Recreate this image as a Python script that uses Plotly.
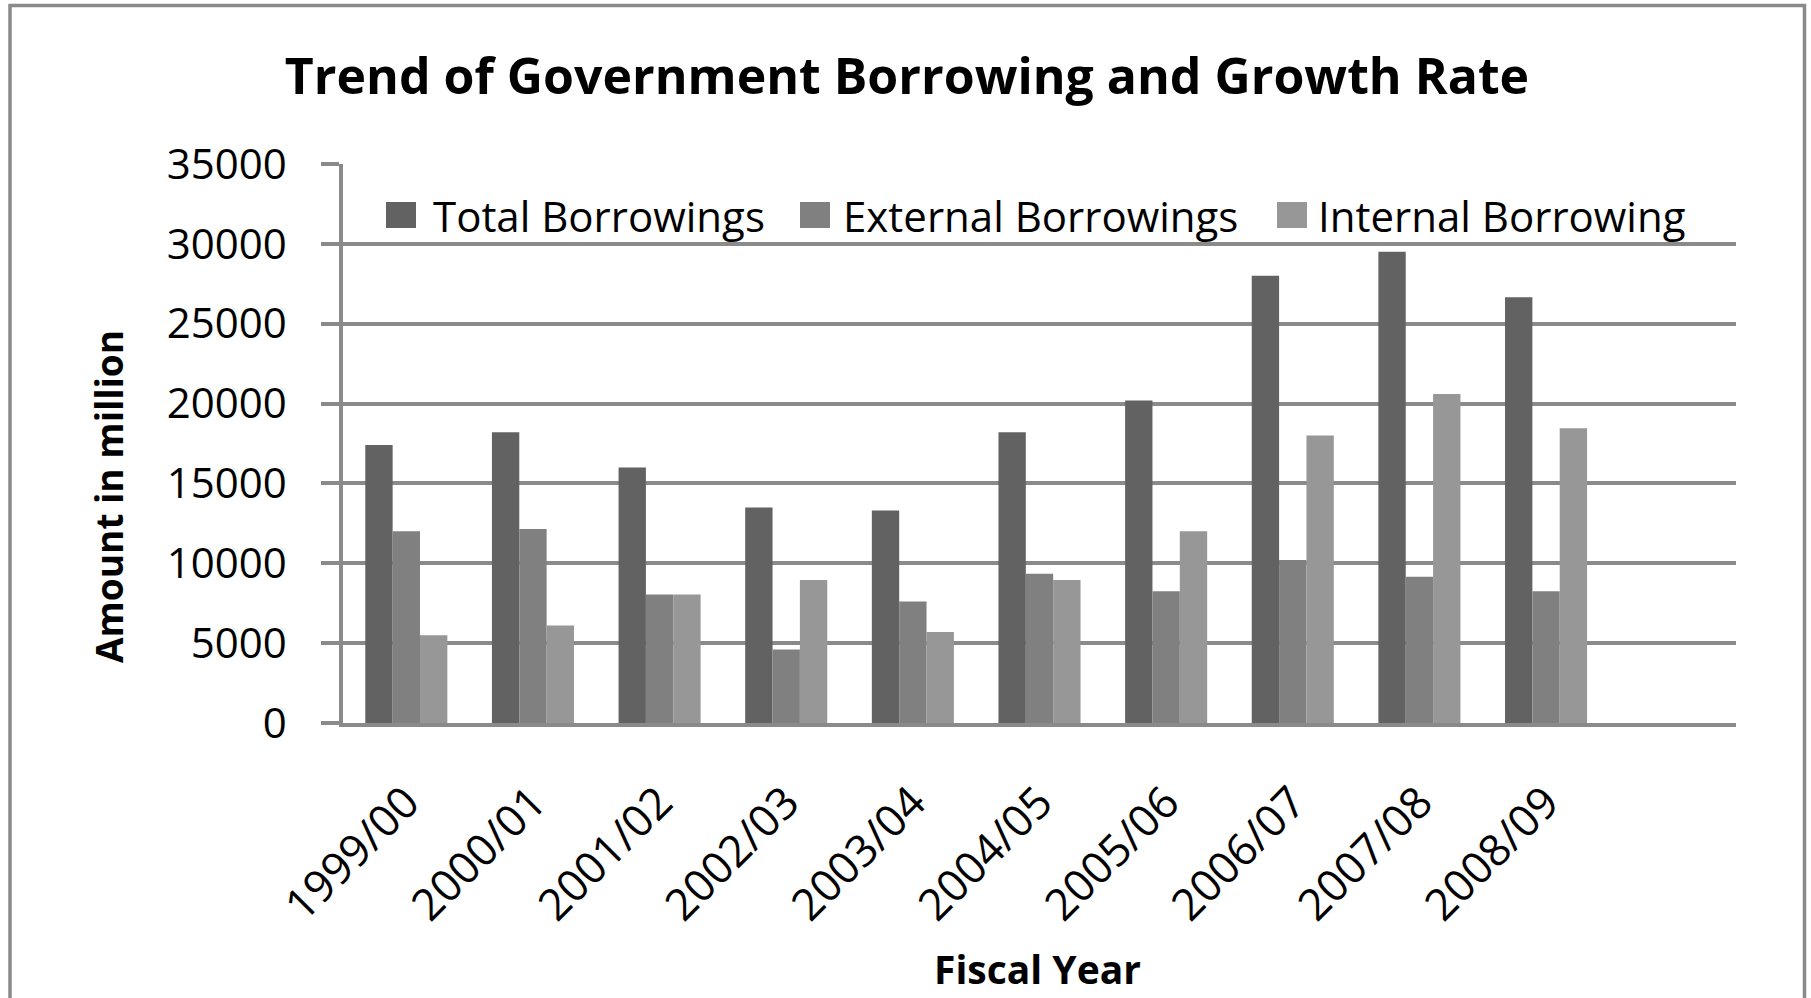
import plotly.graph_objects as go

# Fiscal years and borrowing amounts (million)
fiscal_years = ["1999/00", "2000/01", "2001/02", "2002/03", "2003/04",
                "2004/05", "2005/06", "2006/07", "2007/08", "2008/09"]
total_borrowings = [17400, 18200, 16000, 13500, 13300, 18200, 20200, 28000, 29500, 26650]
external_borrowings = [12000, 12150, 8050, 4600, 7600, 9350, 8250, 10200, 9150, 8250]
internal_borrowing = [5500, 6100, 8050, 8950, 5700, 8950, 12000, 18000, 20600, 18450]

series_names = ["Total Borrowings", "External Borrowings", "Internal Borrowing"]
series_values = [total_borrowings, external_borrowings, internal_borrowing]
series_colors = ["#626262", "#808080", "#979797"]

W, H = 1811, 998
PL, PR, PT, PB = 343, 1736, 164, 723  # plot area in pixels
GRID = "#8a8a8a"
FONT = "Open Sans"


def px_x(x):
    return (x - PL) / (PR - PL)


def px_y(y):
    return (PB - y) / (PB - PT)


x_pos = list(range(len(fiscal_years)))

fig = go.Figure()
for name, vals, col in zip(series_names, series_values, series_colors):
    fig.add_trace(go.Bar(
        x=x_pos, y=vals, name=name,
        marker=dict(color=col, line=dict(width=0)),
        showlegend=False,
    ))

shapes = []
annotations = []

# outer chart border
shapes.append(dict(type="rect", xref="paper", yref="paper",
                   x0=px_x(10), x1=px_x(1804.5), y0=px_y(1020), y1=px_y(5.5),
                   line=dict(color=GRID, width=3.5), fillcolor="rgba(0,0,0,0)",
                   layer="below"))

# legend row inside the plot
legend_items = [(386, 431), (800, 841), (1277, 1316)]
for (sq_x, tx_x), name, col in zip(legend_items, series_names, series_colors):
    shapes.append(dict(type="rect", xref="paper", yref="paper",
                       x0=px_x(sq_x), x1=px_x(sq_x + 30),
                       y0=px_y(228), y1=px_y(202),
                       line=dict(width=0), fillcolor=col, layer="above"))
    annotations.append(dict(xref="paper", yref="paper", x=px_x(tx_x), y=px_y(215),
                            xanchor="left", yanchor="middle", showarrow=False,
                            text=name, font=dict(family=FONT, size=42, color="#000000")))

# axis titles
annotations.append(dict(xref="paper", yref="paper", x=px_x(108), y=px_y(497),
                        xanchor="center", yanchor="middle", showarrow=False,
                        textangle=-90, text="<b>Amount in million</b>",
                        font=dict(family=FONT, size=37, color="#000000")))
annotations.append(dict(xref="paper", yref="paper", x=px_x(1037), y=px_y(968),
                        xanchor="center", yanchor="middle", showarrow=False,
                        text="<b>Fiscal Year</b>",
                        font=dict(family=FONT, size=39, color="#000000")))

fig.update_layout(
    width=W, height=H, autosize=False,
    margin=dict(l=PL, r=W - PR, t=PT, b=H - PB, pad=0),
    paper_bgcolor="white", plot_bgcolor="white",
    barmode="group", bargap=0.352, bargroupgap=0,
    title=dict(text="<b>Trend of Government Borrowing and Growth Rate</b>",
               x=907 / W, xanchor="center", xref="container",
               y=1 - 76 / H, yanchor="middle", yref="container",
               font=dict(family=FONT, size=50, color="#000000")),
    shapes=shapes, annotations=annotations,
    showlegend=False,
    xaxis=dict(range=[-0.5, 10.5], tickvals=x_pos, ticktext=fiscal_years,
               tickangle=-45, showgrid=False, zeroline=False,
               showline=True, linecolor=GRID, linewidth=3.5, ticks="",
               ticklabelstandoff=32,
               tickfont=dict(family=FONT, size=44, color="#000000")),
    yaxis=dict(range=[0, 35000], dtick=5000, tick0=0, tickformat="d",
               showgrid=True, gridcolor=GRID, gridwidth=3.5,
               zeroline=False, showline=True, linecolor=GRID, linewidth=3.5,
               ticks="outside", ticklen=18, tickwidth=3.5, tickcolor=GRID,
               ticklabelstandoff=26,
               tickfont=dict(family=FONT, size=42, color="#000000")),
)

fig.write_html("out.html")
